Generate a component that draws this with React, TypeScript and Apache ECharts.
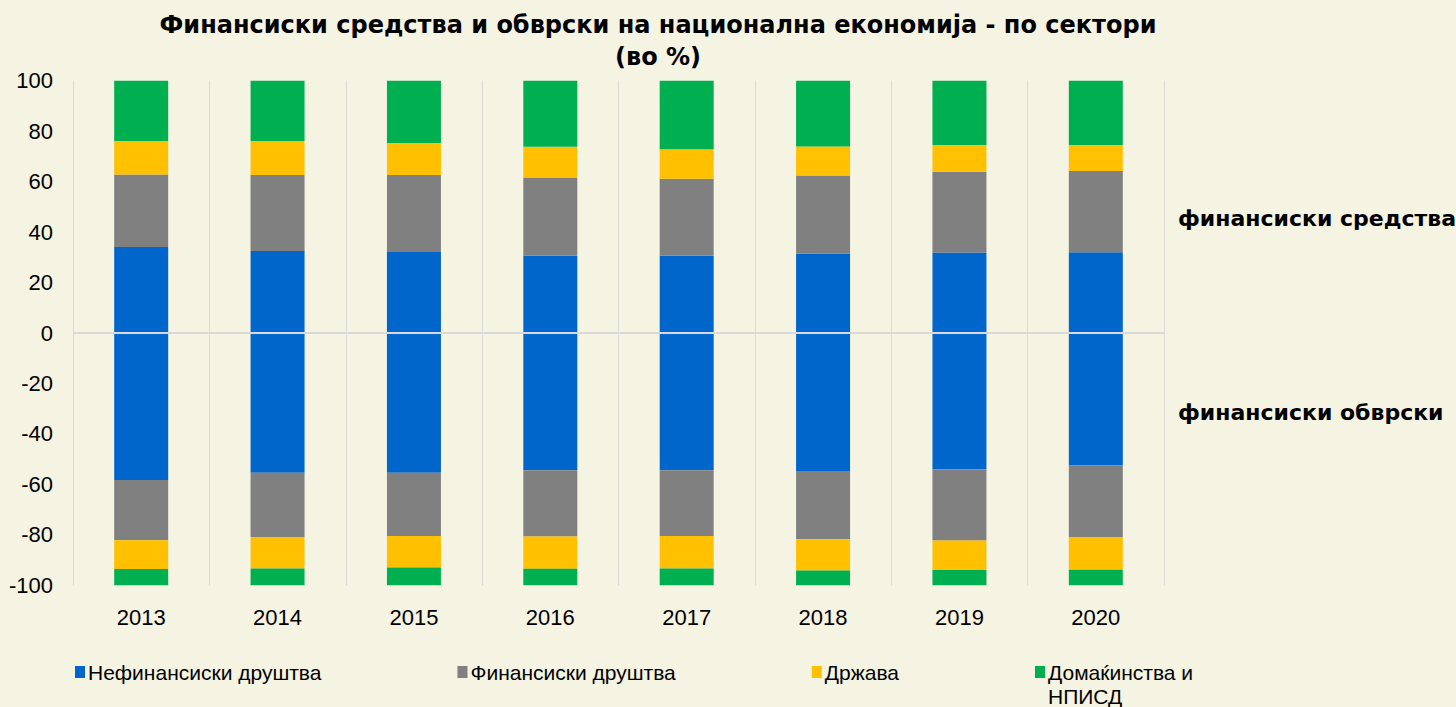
import React, { useEffect, useRef } from "react";
import * as echarts from "echarts";

const years = ["2013", "2014", "2015", "2016", "2017", "2018", "2019", "2020"];
const seriesNames = ["Нефинансиски друштва", "Финансиски друштва", "Држава", "Домаќинства и НПИСД"];
const colors = ["#0066CC", "#808080", "#FFC000", "#00B050"];

// financial assets (positive)
const assetsNonFin = [34.1, 32.5, 32.1, 30.6, 30.6, 31.5, 31.9, 32.0];
const assetsFin = [28.7, 30.1, 30.5, 31.0, 30.5, 30.9, 32.0, 32.2];
const assetsGov = [13.3, 13.5, 12.7, 12.2, 11.7, 11.5, 10.6, 10.3];
const assetsHh = [23.9, 23.9, 24.7, 26.2, 27.2, 26.1, 25.5, 25.5];

// financial liabilities (negative)
const liabNonFin = [-58.3, -55.4, -55.4, -54.4, -54.4, -54.7, -54.0, -52.5];
const liabFin = [-23.8, -25.5, -25.1, -26.3, -26.1, -27.0, -28.2, -28.4];
const liabGov = [-11.4, -12.4, -12.4, -12.7, -12.8, -12.4, -11.7, -12.9];
const liabHh = [-6.5, -6.7, -7.1, -6.6, -6.7, -5.9, -6.1, -6.2];

const yTicks = { min: -100, max: 100, interval: 20 };

const titleLines = ["Финансиски средства и обврски на национална економија - по сектори", "(во %)"];
const sideLabels = ["финансиски средства", "финансиски обврски"];

export default function App() {
  const ref = useRef<HTMLDivElement>(null);

  useEffect(() => {
    document.body.style.margin = "0";
    if (!ref.current) return;
    const chart = echarts.init(ref.current, undefined, { renderer: "svg" });
    const font = "'Liberation Sans', Arial, sans-serif";
    const boldFont = "'DejaVu Sans', Verdana, sans-serif";

    const assets = [assetsNonFin, assetsFin, assetsGov, assetsHh];
    const liabs = [liabNonFin, liabFin, liabGov, liabHh];

    const series: any[] = [];
    assets.forEach((d, i) => {
      series.push({
        name: seriesNames[i],
        type: "bar",
        stack: "total",
        barWidth: 54,
        data: d,
        itemStyle: { color: colors[i] },
        ...(i === 0
          ? {
              markLine: {
                silent: true,
                symbol: "none",
                label: { show: false },
                lineStyle: { color: "#d9d9d9", width: 2, type: "solid" },
                data: [{ yAxis: 0 }],
                z: 10,
              },
            }
          : {}),
      });
    });
    liabs.forEach((d, i) => {
      series.push({
        name: seriesNames[i],
        type: "bar",
        stack: "total",
        barWidth: 54,
        data: d,
        itemStyle: { color: colors[i] },
      });
    });

    chart.setOption({
      animation: false,
      backgroundColor: "#F5F3E2",
      title: {
        text: titleLines.join("\n"),
        left: 658,
        top: 9,
        padding: 0,
        textAlign: "center",
        textStyle: {
          fontFamily: boldFont,
          fontWeight: "bold",
          fontSize: 24,
          lineHeight: 32,
          color: "#000",
        },
      },
      grid: { left: 73, right: 292, top: 80.7, bottom: 121.7, containLabel: false },
      legend: {
        left: 70,
        top: 631,
        itemWidth: 10,
        itemHeight: 12,
        itemGap: 136,
        icon: "rect",
        data: seriesNames,
        formatter: (name: string) =>
          name === "Домаќинства и НПИСД" ? "\nДомаќинства и\nНПИСД" : name,
        textStyle: { fontFamily: font, fontSize: 21, lineHeight: 24, color: "#000", padding: [0, 0, 0, -2] },
      },
      xAxis: {
        type: "category",
        data: years,
        axisLine: { show: false, onZero: false },
        axisTick: { show: false },
        axisLabel: { fontFamily: font, fontSize: 22, color: "#000", margin: 21 },
        splitLine: { show: true, lineStyle: { color: "#d9d9d9", width: 1 } },
      },
      yAxis: {
        type: "value",
        min: yTicks.min,
        max: yTicks.max,
        interval: yTicks.interval,
        axisLine: { show: false },
        axisTick: { show: false },
        splitLine: { show: false },
        axisLabel: { fontFamily: font, fontSize: 22, color: "#000", margin: 20 },
      },
      graphic: [
        {
          type: "text",
          x: 1178,
          y: 218,
          style: {
            text: sideLabels[0],
            font: `bold 22px ${boldFont}`,
            fill: "#000",
            verticalAlign: "middle",
          },
        },
        {
          type: "text",
          x: 1178,
          y: 412,
          style: {
            text: sideLabels[1],
            font: `bold 22px ${boldFont}`,
            fill: "#000",
            verticalAlign: "middle",
          },
        },
      ],
      series,
    });
    return () => chart.dispose();
  }, []);

  return <div ref={ref} style={{ width: 1456, height: 707 }} />;
}
